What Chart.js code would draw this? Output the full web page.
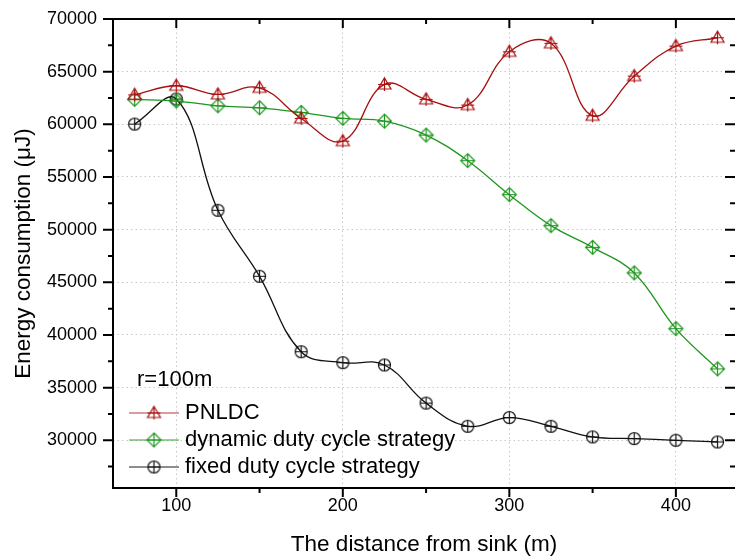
<!DOCTYPE html>
<html>
<head>
<meta charset="utf-8">
<script src="https://cdn.jsdelivr.net/npm/chart.js@4.4.0/dist/chart.umd.min.js"></script>
<style>
  html, body { margin: 0; padding: 0; background: #fff; }
  #wrap { width: 735px; height: 558px; }
</style>
</head>
<body>
<div id="wrap"><canvas id="myChart" width="735" height="558"></canvas></div>
<script>
// data
const distances = [75, 100, 125, 150, 175, 200, 225, 250, 275, 300, 325, 350, 375, 400, 425];
const pnldc   = [62800, 63660, 62840, 63470, 60560, 58400, 63790, 62370, 61830, 66890, 67690, 60810, 64580, 67430, 68220];
const dynamic = [62370, 62210, 61760, 61570, 61130, 60560, 60300, 58980, 56550, 53320, 50380, 48320, 45890, 40600, 36780];
const fixed   = [60020, 62400, 51840, 45570, 38410, 37370, 37150, 33530, 31330, 32160, 31330, 30320, 30160, 30000, 29840];

const seriesNames = ['PNLDC', 'dynamic duty cycle strategy', 'fixed duty cycle strategy'];
const xTicks = [100, 200, 300, 400];
const xMinorTicks = [150, 250, 350];
const yTicks = [30000, 35000, 40000, 45000, 50000, 55000, 60000, 65000, 70000];
const yMinorTicks = [27500, 32500, 37500, 42500, 47500, 52500, 57500, 62500, 67500];

const FONT = "'Liberation Sans', Arial, sans-serif";
const RED = '#a80f0f';
const GREEN = '#1f961f';
const BLACK = '#111111';

function makeMarker(shape, color) {
    const c = document.createElement('canvas');
    c.width = 17; c.height = 17;
    const g = c.getContext('2d');
    const m = 8.5;
    g.strokeStyle = color;
    g.lineWidth = 1.2;
    g.beginPath();
    if (shape === 'triangle') {
        g.moveTo(m, m - 6.5); g.lineTo(m + 6.5, m + 4.5); g.lineTo(m - 6.5, m + 4.5); g.closePath();
    } else if (shape === 'diamond') {
        g.moveTo(m, m - 7); g.lineTo(m + 7, m); g.lineTo(m, m + 7); g.lineTo(m - 7, m); g.closePath();
    } else {
        g.arc(m, m, 6, 0, Math.PI * 2);
    }
    g.stroke();
    const r = shape === 'circle' ? 6 : 6.5;
    g.beginPath();
    g.moveTo(m, m - r); g.lineTo(m, m + r);
    g.moveTo(m - r, m); g.lineTo(m + r, m);
    g.stroke();
    return c;
}

const markers = [makeMarker('triangle', RED), makeMarker('diamond', GREEN), makeMarker('circle', BLACK)];
const colors = [RED, GREEN, BLACK];
const legendColors = ['rgba(168,15,15,0.55)', 'rgba(31,150,31,0.6)', 'rgba(0,0,0,0.6)'];

function toPoints(arr) {
    return arr.map((v, i) => ({ x: distances[i], y: v }));
}

// frame, ticks (major + minor) and the inside legend
const framePlugin = {
    id: 'frame',
    afterDraw(chart) {
        const ctx = chart.ctx;
        const a = chart.chartArea;
        const xs = chart.scales.x, ys = chart.scales.y;
        ctx.save();
        ctx.strokeStyle = '#000';
        ctx.lineWidth = 2;
        ctx.beginPath();
        ctx.moveTo(a.left, a.top); ctx.lineTo(a.left, a.bottom);
        ctx.moveTo(a.left - 1, a.bottom); ctx.lineTo(a.right, a.bottom);
        ctx.moveTo(a.left - 1, a.top); ctx.lineTo(a.right, a.top);
        ctx.stroke();

        ctx.beginPath();
        const tickX = (vals, len) => vals.forEach(v => {
            const px = xs.getPixelForValue(v);
            ctx.moveTo(px, a.bottom); ctx.lineTo(px, a.bottom + len);
            ctx.moveTo(px, a.top); ctx.lineTo(px, a.top + len);
        });
        const tickY = (vals, len) => vals.forEach(v => {
            const py = ys.getPixelForValue(v);
            ctx.moveTo(a.left, py); ctx.lineTo(a.left - len, py);
            ctx.moveTo(a.right, py); ctx.lineTo(a.right - len, py);
        });
        tickX(xTicks, 9); tickX(xMinorTicks, 5);
        tickY(yTicks, 10); tickY(yMinorTicks, 5);
        ctx.stroke();

        // legend
        ctx.fillStyle = '#000';
        ctx.font = '22px ' + FONT;
        ctx.textBaseline = 'middle';
        ctx.textAlign = 'left';
        ctx.fillText('r=100m', 137, 380);
        const rows = [413, 440, 467];
        rows.forEach((y, i) => {
            ctx.strokeStyle = legendColors[i];
            ctx.lineWidth = 1.5;
            ctx.beginPath();
            ctx.moveTo(129, y); ctx.lineTo(179, y);
            ctx.stroke();
            const mk = markers[i];
            ctx.drawImage(mk, 154 - mk.width / 2, y - mk.height / 2);
            ctx.fillStyle = '#000';
            ctx.fillText(seriesNames[i], 185, y);
        });
        ctx.restore();
    }
};

const ctx = document.getElementById('myChart');
const myChart = new Chart(ctx, {
    type: 'line',
    data: {
        datasets: [pnldc, dynamic, fixed].map((arr, i) => ({
            label: seriesNames[i],
            data: toPoints(arr),
            borderColor: colors[i],
            borderWidth: 1.3,
            pointStyle: markers[i],
            pointRadius: 7,
            tension: 0.4,
            fill: false
        }))
    },
    plugins: [framePlugin],
    options: {
        responsive: false,
        animation: false,
        events: [],
        layout: { autoPadding: false, padding: { top: 19, right: 0, left: 0, bottom: 0 } },
        plugins: {
            legend: { display: false },
            tooltip: { enabled: false }
        },
        scales: {
            x: {
                type: 'linear',
                min: 62,
                max: 435.5,
                afterBuildTicks: s => { s.ticks = xTicks.map(v => ({ value: v })); },
                afterFit: s => { s.height = 70; s.paddingLeft = 0; s.paddingRight = 0; },
                ticks: {
                    color: '#000',
                    font: { family: FONT, size: 18 },
                    padding: 0,
                    maxRotation: 0,
                    callback: v => String(v)
                },
                grid: { color: '#c8c8c8', lineWidth: 1, drawTicks: true, tickLength: 7, tickColor: 'rgba(0,0,0,0)' },
                border: { display: false, dash: [1.5, 3] },
                title: {
                    display: true,
                    text: 'The distance from sink (m)',
                    color: '#000',
                    font: { family: FONT, size: 22.5 },
                    padding: { top: 5, bottom: 0 }
                }
            },
            y: {
                type: 'linear',
                min: 25470,
                max: 70000,
                afterBuildTicks: s => { s.ticks = yTicks.map(v => ({ value: v })); },
                afterFit: s => { s.width = 113; s.paddingTop = 0; s.paddingBottom = 0; },
                ticks: {
                    color: '#000',
                    font: { family: FONT, size: 18 },
                    padding: 0,
                    callback: v => String(v)
                },
                grid: { color: '#c8c8c8', lineWidth: 1, drawTicks: true, tickLength: 16, tickColor: 'rgba(0,0,0,0)' },
                border: { display: false, dash: [1.5, 3] },
                title: {
                    display: true,
                    text: 'Energy consumption (μJ)',
                    color: '#000',
                    font: { family: FONT, size: 22.5 },
                    padding: { top: 10, bottom: 0 }
                }
            }
        }
    }
});
</script>
</body>
</html>
